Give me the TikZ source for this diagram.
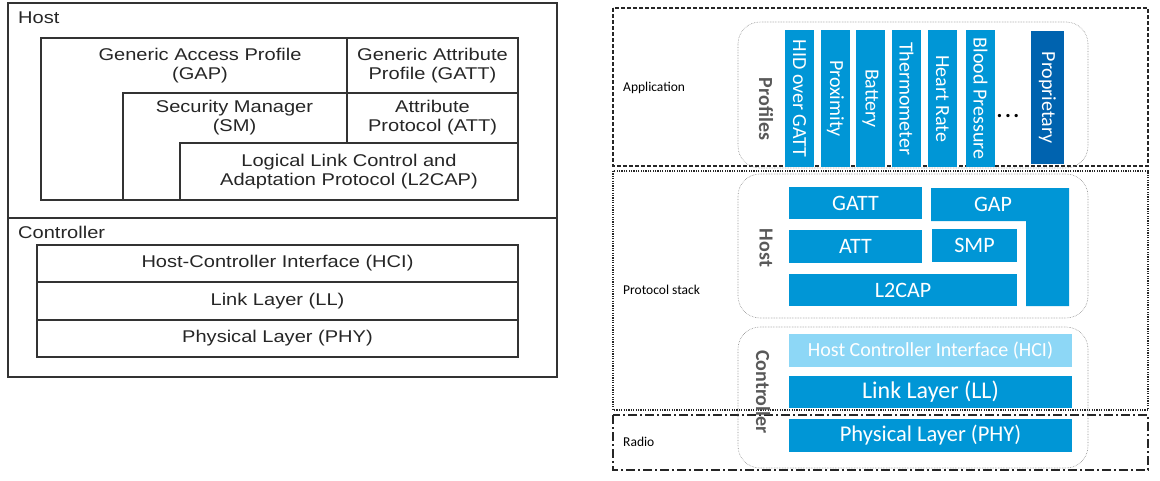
\documentclass[tikz,border=0pt]{standalone}
\usepackage{fontspec}
\setmainfont{Carlito}
\newfontfamily\arialfont[FakeStretch=1.18]{Liberation Sans}
\definecolor{barblue}{RGB}{0,150,214}
\definecolor{propblue}{RGB}{0,99,175}
\definecolor{hciblue}{RGB}{141,215,246}
\begin{document}
\begin{tikzpicture}[x=1pt,y=-1pt,
  leftline/.style={draw=black!80,line width=1.3pt},
  leftbox/.style={draw=black!80,line width=1.3pt,inner sep=0pt,align=center,
    font=\arialfont\fontsize{17}{19}\selectfont,text=black!85},
  lefttxt/.style={inner sep=0pt,align=center,font=\arialfont\fontsize{17}{19}\selectfont,text=black!85},
  bar/.style={fill=barblue,text=white,rotate=-90,inner sep=0pt,minimum height=29pt,
    font=\fontsize{20}{24}\selectfont},
  blk/.style={fill=barblue,text=white,inner sep=0pt,font=\fontsize{22}{26}\selectfont},
  sidelbl/.style={rotate=-90,inner sep=0pt,text=black!65,font=\bfseries\fontsize{20}{24}\selectfont},
  layerlbl/.style={anchor=west,inner sep=0pt,font=\fontsize{13.5}{16}\selectfont},
  roundbox/.style={draw=black!45,densely dotted,line width=0.6pt,rounded corners=22pt},
  appframe/.style={draw=black!85,line width=1.6pt,dash pattern=on 4pt off 2pt},
  stackframe/.style={draw=black!85,line width=1.6pt,dash pattern=on 1.2pt off 1.2pt},
  radioframe/.style={draw=black!85,line width=1.6pt,dash pattern=on 9pt off 3pt on 2pt off 3pt}]
\useasboundingbox (0,0) rectangle (1160,480);

\draw[leftline] (8,3) rectangle (557,377);
\draw[leftline,line width=2.2pt] (8,218) -- (557,218);
\path (18,18) node[lefttxt,anchor=west] (hosttitle) {Host};
\path (18,232) node[lefttxt,anchor=west] (ctrltitle) {Controller};

\draw[leftline] (41,38) rectangle (518,200);
\path (200,66) node[lefttxt] (gap) {Generic Access Profile\\(GAP)};
\path (432.5,65.5) node[leftbox,minimum width=171,minimum height=55] (gatt) {Generic Attribute\\Profile (GATT)};
\draw[leftline] (123,93) rectangle (518,200);
\path (234.5,117.5) node[lefttxt] (sm) {Security Manager\\(SM)};
\path (432.5,118) node[leftbox,minimum width=171,minimum height=50] (att) {Attribute\\Protocol (ATT)};
\path (349,171.5) node[leftbox,minimum width=338,minimum height=57] (l2cap) {Logical Link Control and\\Adaptation Protocol (L2CAP)};

\path (277.5,263.5) node[leftbox,minimum width=481,minimum height=37] (hci) {Host-Controller Interface (HCI)};
\path (277.5,301) node[leftbox,minimum width=481,minimum height=38] (ll) {Link Layer (LL)};
\path (277.5,338.5) node[leftbox,minimum width=481,minimum height=37] (phy) {Physical Layer (PHY)};

\draw[appframe] (613,8) rectangle (1148,166);
\draw[stackframe] (613,171) rectangle (1148,410);
\draw[radioframe] (613,415) rectangle (1148,470);
\path (623,88) node[layerlbl] (applbl) {Application};
\path (623,290) node[layerlbl] (stacklbl) {Protocol stack};
\path (623,442) node[layerlbl] (radiolbl) {Radio};

\draw[roundbox] (738,22) rectangle (1088,168);
\draw[roundbox] (738,174) rectangle (1088,318);
\draw[roundbox] (738,327) rectangle (1088,468);

\path (766,109) node[sidelbl] (profiles) {Profiles};
\path (799.5,98.5) node[bar,minimum width=137] (hid) {HID over GATT};
\path (835.5,98.5) node[bar,minimum width=137] (prox) {Proximity};
\path (870.5,98.5) node[bar,minimum width=137] (batt) {Battery};
\path (906.5,98.5) node[bar,minimum width=137] (thermo) {Thermometer};
\path (942.5,98.5) node[bar,minimum width=137] (heart) {Heart Rate};
\path (980.5,98.5) node[bar,minimum width=137] (blood) {Blood Pressure};
\path (1008,116) node[inner sep=0pt,font=\bfseries\fontsize{22}{24}\selectfont] (more) {.\hspace{2.5pt}.\hspace{2.5pt}.};
\path (1047.5,97.5) node[bar,fill=propblue,minimum width=133,minimum height=33] (prop) {Proprietary};

\path (766,248) node[sidelbl] (hostlbl) {Host};
\path (855.5,203) node[blk,minimum width=133,minimum height=32] (gattb) {GATT};
\fill[barblue] (931,188) -- (1069,188) -- (1069,306) -- (1026,306) -- (1026,221) -- (931,221) -- cycle;
\path (993,204) node[blk] (gapb) {GAP};
\path (855.5,246.5) node[blk,minimum width=133,minimum height=33] (attb) {ATT};
\path (974.5,245.5) node[blk,minimum width=85,minimum height=33] (smpb) {SMP};
\path (903,290) node[blk,minimum width=228,minimum height=32] (l2capb) {L2CAP};

\path (763,392) node[sidelbl] (ctrllbl) {Controller};
\path (930.5,350.5) node[blk,fill=hciblue,minimum width=283,minimum height=33,font=\fontsize{20}{24}\selectfont] (hcib) {Host Controller Interface (HCI)};
\path (930.5,392) node[blk,minimum width=283,minimum height=32,font=\fontsize{24}{28}\selectfont] (llb) {Link Layer (LL)};
\path (930.5,435.5) node[blk,minimum width=283,minimum height=33,font=\fontsize{22.5}{26}\selectfont] (phyb) {Physical Layer (PHY)};
\end{tikzpicture}
\end{document}
